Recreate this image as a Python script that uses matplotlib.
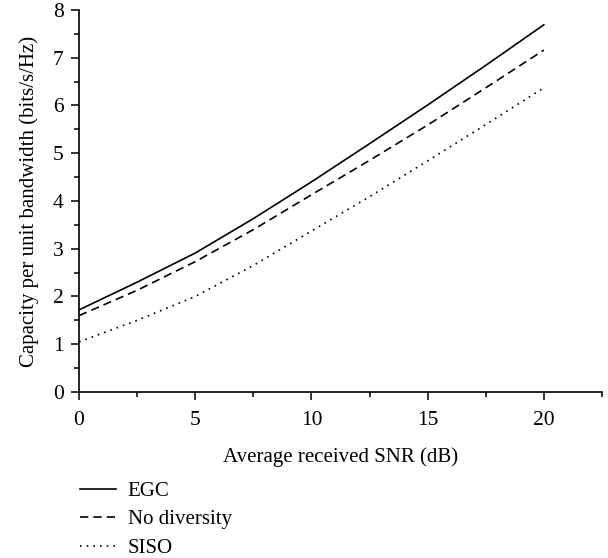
import numpy as np
import matplotlib
matplotlib.use('Agg')
import matplotlib.pyplot as plt

# values
snr_db = [0, 2.5, 5, 7.5, 10, 12.5, 15, 17.5, 20]
cap_egc = [1.72, 2.30, 2.91, 3.63, 4.40, 5.20, 6.01, 6.84, 7.69]
cap_nodiv = [1.60, 2.13, 2.73, 3.40, 4.13, 4.85, 5.59, 6.37, 7.16]
cap_siso = [1.05, 1.50, 2.00, 2.65, 3.37, 4.09, 4.84, 5.60, 6.37]

plt.rcParams['font.family'] = ['Liberation Serif', 'DejaVu Serif']

fig = plt.figure(figsize=(6.08, 5.58), dpi=100)
ax = fig.add_axes([0.13, 0.2975, 0.86, 0.6846])

ax.plot(snr_db, cap_egc, color='black', lw=1.2, ls='-', label='EGC')
ax.plot(snr_db, cap_nodiv, color='black', lw=1.2, ls=(0, (5, 3)), label='No diversity')
ax.plot(snr_db, cap_siso, color='black', lw=1.2, ls=(0, (1, 3)), label='SISO')

ax.set_xlim(0, 22.5)
ax.set_ylim(0, 8)
ax.set_xticks([0, 5, 10, 15, 20])
ax.set_xticks(np.arange(0, 22.6, 2.5), minor=True)
ax.set_yticks(range(0, 9))
ax.set_yticks(np.arange(0, 8.1, 0.5), minor=True)

for side in ['top', 'right']:
    ax.spines[side].set_visible(False)
for side in ['left', 'bottom']:
    ax.spines[side].set_linewidth(1.2)

ax.tick_params(which='major', direction='out', length=6, width=1.1, labelsize=15.5, pad=5)
ax.tick_params(axis='x', which='major', pad=8)
ax.tick_params(which='minor', direction='out', length=3.5, width=1.1)

ax.set_xlabel('Average received SNR (dB)', fontsize=15, labelpad=12)
ax.set_ylabel('Capacity per unit bandwidth (bits/s/Hz)', fontsize=15, labelpad=10)

fig.legend(loc='upper left', bbox_to_anchor=(0.131, 0.137), frameon=False,
           fontsize=15, handlelength=1.75, handletextpad=0.55, labelspacing=0.42,
           borderaxespad=0, borderpad=0)

fig.savefig('out.png', dpi=100)
